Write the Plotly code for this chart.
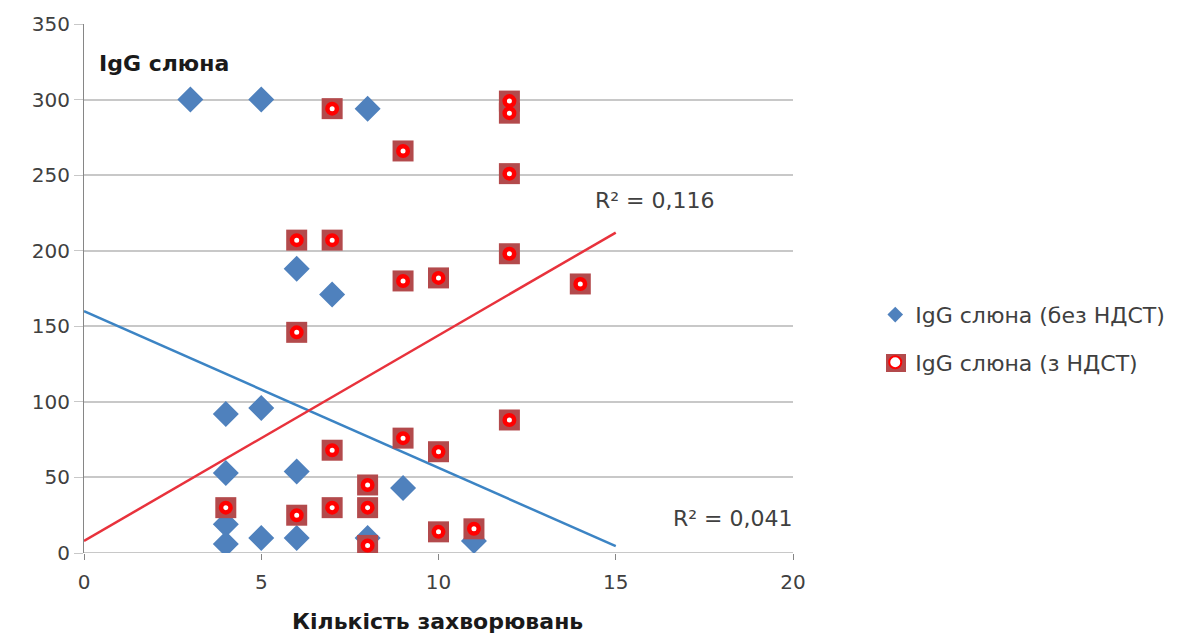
import plotly.graph_objects as go

# Blue series: IgG слюна (без НДСТ)
blue_x = [3, 5, 8, 6, 7, 4, 5, 4, 6, 9, 4, 4, 5, 6, 8, 11]
blue_y = [300, 300, 294, 188, 171, 92, 96, 53, 54, 43, 19, 6, 10, 10, 10, 8]

# Red series: IgG слюна (з НДСТ)
red_x = [7, 12, 12, 9, 12, 6, 7, 12, 9, 10, 14, 6, 12, 9, 7, 10, 8, 4, 7, 8, 6, 10, 11, 8]
red_y = [294, 299, 291, 266, 251, 207, 207, 198, 180, 182, 178, 146, 88, 76, 68, 67, 45, 30, 30, 30, 25, 14, 16, 5]

# Linear trend lines
trend_x = [0, 15]
blue_trend = [160, 4.5]
red_trend = [8, 212]

blue_name = "IgG слюна (без НДСТ)"
red_name = "IgG слюна (з НДСТ)"

FONT = "'DejaVu Sans', sans-serif"
TXT = "#404040"

fig = go.Figure()

fig.add_trace(go.Scatter(x=trend_x, y=blue_trend, mode="lines",
                         line=dict(color="#3C84C4", width=2.5), showlegend=False, hoverinfo="skip"))
fig.add_trace(go.Scatter(x=trend_x, y=red_trend, mode="lines",
                         line=dict(color="#E8323C", width=2.5), showlegend=False, hoverinfo="skip"))

fig.add_trace(go.Scatter(x=blue_x, y=blue_y, mode="markers", name=blue_name,
                         marker=dict(symbol="diamond", size=20, color="#4F81BD", line=dict(width=0)),
                         legendgroup="a"))
fig.add_trace(go.Scatter(x=red_x, y=red_y, mode="markers", showlegend=False,
                         marker=dict(symbol="square", size=21, color="#B34A4C", line=dict(width=0)),
                         legendgroup="b"))
fig.add_trace(go.Scatter(x=red_x, y=red_y, mode="markers", name=red_name,
                         marker=dict(symbol="circle", size=9.5, color="white",
                                     line=dict(color="#FF0000", width=4.5)),
                         legendgroup="b"))

fig.update_layout(
    width=1200, height=637,
    margin=dict(l=84, r=407, t=24, b=84),
    paper_bgcolor="white", plot_bgcolor="white",
    font=dict(family=FONT, size=18, color=TXT),
    xaxis=dict(range=[0, 20], tickvals=[0, 5, 10, 15, 20], showgrid=False, zeroline=False,
               showline=False, ticks="outside", ticklen=6, tickcolor="#868686",
               ticklabelstandoff=5,
               tickfont=dict(size=20, color=TXT), fixedrange=True),
    yaxis=dict(range=[0, 350], tickvals=[0, 50, 100, 150, 200, 250, 300, 350],
               showgrid=True, gridcolor="#C8C8C8", gridwidth=2, zeroline=False,
               showline=True, linecolor="#868686", linewidth=1,
               ticks="outside", ticklen=9, tickcolor="#C8C8C8",
               tickfont=dict(size=20, color=TXT), fixedrange=True),
    legend=dict(x=1.116, xanchor="left", y=0.49, yanchor="top",
                font=dict(size=22, color=TXT), tracegroupgap=16,
                traceorder="grouped", bgcolor="rgba(0,0,0,0)", itemsizing="constant"),
    showlegend=True,
)

# zero gridline drawn as axis baseline
fig.add_shape(type="line", xref="x", yref="y", x0=0, x1=20, y0=0, y1=0,
              line=dict(color="#C8C8C8", width=2), layer="below")

fig.add_annotation(text="<b>IgG слюна</b>", xref="paper", yref="paper",
                   x=0.018, y=0.925, xanchor="left", yanchor="middle", showarrow=False,
                   font=dict(size=22, color="#1a1a1a"))
fig.add_annotation(text="R² = 0,116", xref="x", yref="y", x=16.1, y=233,
                   showarrow=False, font=dict(size=22, color=TXT))
fig.add_annotation(text="R² = 0,041", xref="x", yref="y", x=18.3, y=23,
                   showarrow=False, font=dict(size=22, color=TXT))
fig.add_annotation(text="<b>Кількість захворювань</b>", xref="paper", yref="paper",
                   x=0.498, y=-0.13, xanchor="center", yanchor="middle", showarrow=False,
                   font=dict(size=22, color="#1a1a1a"))

# square backing behind the legend symbol of the red series
fig.add_shape(type="rect", xref="paper", yref="paper",
              x0=(886 - 84) / 709, x1=(906 - 84) / 709,
              y0=(553 - 372) / 529, y1=(553 - 354) / 529,
              fillcolor="#B34A4C", line=dict(width=0), layer="above")

fig.write_html("out.html")
